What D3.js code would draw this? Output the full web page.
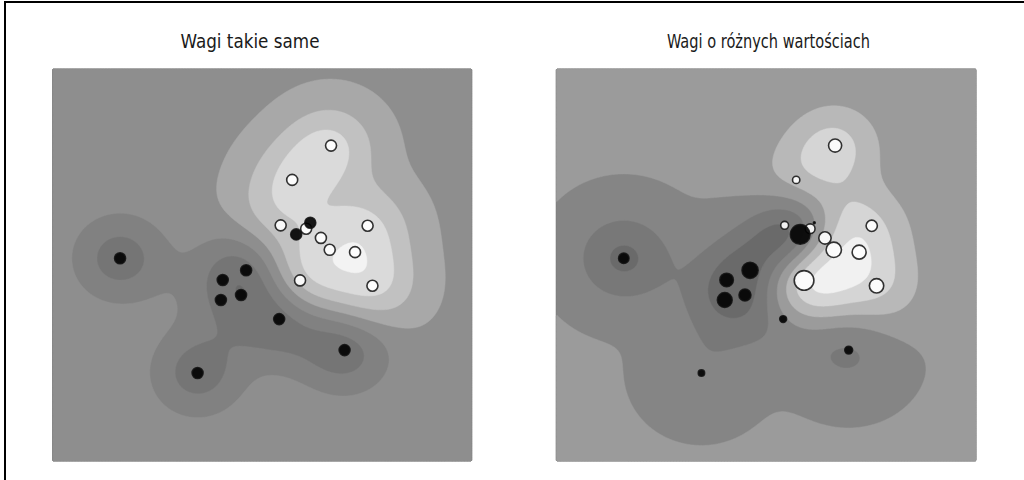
<!DOCTYPE html>
<html><head><meta charset="utf-8">
<script src="https://cdn.jsdelivr.net/npm/d3@7"></script>
<style>body{margin:0;background:#fff}svg{display:block}</style>
</head><body>
<svg id="c" width="1024" height="480"></svg>
<script>
// ---- data ----
const pointX = [2.76405235, 1.97873798, 2.86755799, 1.95008842, 0.89678115, 1.14404357, 1.76103773, 1.44386323, 2.49407907, 1.3130677,
                -2.55298982, 0.8644362, 2.26975462, 0.04575852, 1.53277921, 0.15494743, -0.88778575, -0.34791215, 1.23029068, -0.38732682];
const pointY = [1.40015721, 3.2408932, 0.02272212, 0.84864279, 1.4105985, 2.45427351, 1.12167502, 1.33367433, 0.79484174, 0.14590426,
                0.6536186, -0.74216502, -1.45436567, -0.18718385, 1.46935877, 0.37816252, -1.98079647, 0.15634897, 1.20237985, -0.30230275];
const pointLabel = [1, 1, 1, 1, 1, 1, 1, 1, 1, 1, -1, -1, -1, -1, -1, -1, -1, -1, -1, -1];
const weightsEqual = [1, 1, 1, 1, 1, 1, 1, 1, 1, 1, 1, 1, 1, 1, 1, 1, 1, 1, 1, 1];
const weightsVaried = [1.04855297, 1.42001794, 1.70627019, 1.9507754, 0.50965218, 0.4380743, 1.25279536, 0.77749036, 1.61389785, 3.1911042,
                       0.89546656, 0.3869025, 0.51080514, 1.18063218, 0.02818223, 2.14165935, 0.3325861, 1.5123595, 3.17161045, 1.81370585];
const panelTitles = ["Wagi takie same", "Wagi o różnych wartościach"];
const panelWeights = [weightsEqual, weightsVaried];
const domainRange = [-4, 5];
const svmC = 1, svmGamma = 1;
const niceSteps = [1, 1.5, 2, 2.5, 3, 4, 5, 6, 8, 10];

// ---- model (RBF SVC fitted with SMO on the points above) ----
function kern(ax, ay, bx, by) { const dx = ax - bx, dy = ay - by; return Math.exp(-svmGamma * (dx * dx + dy * dy)); }
function fitSVC(w) {
  const n = pointX.length, y = pointLabel, C = w.map(v => svmC * v);
  const K = [];
  for (let i = 0; i < n; i++) { K.push([]); for (let j = 0; j < n; j++) K[i].push(kern(pointX[i], pointY[i], pointX[j], pointY[j])); }
  const a = new Array(n).fill(0), G = new Array(n).fill(-1);
  const up = t => (y[t] === 1 && a[t] < C[t]) || (y[t] === -1 && a[t] > 0);
  const low = t => (y[t] === -1 && a[t] < C[t]) || (y[t] === 1 && a[t] > 0);
  for (let it = 0; it < 200000; it++) {
    let i = -1, j = -1, gmax = -Infinity, gmin = Infinity;
    for (let t = 0; t < n; t++) {
      const v = -y[t] * G[t];
      if (up(t) && v > gmax) { gmax = v; i = t; }
      if (low(t) && v < gmin) { gmin = v; j = t; }
    }
    if (i < 0 || j < 0 || gmax - gmin < 1e-9) break;
    const eta = Math.max(K[i][i] + K[j][j] - 2 * K[i][j], 1e-12);
    let d = (gmax - gmin) / eta;
    const bi = y[i] === 1 ? C[i] - a[i] : a[i];
    const bj = y[j] === 1 ? a[j] : C[j] - a[j];
    d = Math.min(d, bi, bj);
    const dai = y[i] * d, daj = -y[j] * d;
    a[i] += dai; a[j] += daj;
    if (Math.abs(a[i]) < 1e-14) a[i] = 0; if (Math.abs(a[i] - C[i]) < 1e-14) a[i] = C[i];
    if (Math.abs(a[j]) < 1e-14) a[j] = 0; if (Math.abs(a[j] - C[j]) < 1e-14) a[j] = C[j];
    for (let t = 0; t < n; t++) G[t] += y[t] * y[i] * K[t][i] * dai + y[t] * y[j] * K[t][j] * daj;
  }
  let ub = Infinity, lb = -Infinity, nf = 0, sf = 0;
  for (let t = 0; t < n; t++) {
    const yG = y[t] * G[t];
    if (a[t] >= C[t]) { if (y[t] === -1) ub = Math.min(ub, yG); else lb = Math.max(lb, yG); }
    else if (a[t] <= 0) { if (y[t] === 1) ub = Math.min(ub, yG); else lb = Math.max(lb, yG); }
    else { nf++; sf += yG; }
  }
  const rho = nf > 0 ? sf / nf : (ub + lb) / 2;
  const coef = a.map((v, t) => v * y[t]);
  return (px, py) => { let s = -rho; for (let t = 0; t < n; t++) if (coef[t] !== 0) s += coef[t] * kern(px, py, pointX[t], pointY[t]); return s; };
}

// ---- contour levels (classic MaxNLocator, 8 bins, trimmed) ----
function autoLevels(zmin, zmax) {
  let nb = 8;
  const scale = Math.pow(10, Math.floor(Math.log10((zmax - zmin) / nb)));
  const scaledRaw = (zmax - zmin) / nb / scale;
  let step = 0, bmin = zmin, bmax = zmax;
  for (const s of niceSteps) {
    if (s < scaledRaw) continue;
    step = s * scale;
    bmin = step * Math.floor(zmin / step);
    bmax = bmin + step * nb;
    if (bmax >= zmax) break;
  }
  nb -= Math.floor((bmax - zmax) / step);
  return d3.range(nb + 1).map(k => +(bmin + k * step).toFixed(10));
}
function bone(x) {
  const seg = (pts) => { for (let k = 1; k < pts.length; k++) if (x <= pts[k][0]) { const [x0, v0] = pts[k - 1], [x1, v1] = pts[k]; return v0 + (x - x0) / (x1 - x0) * (v1 - v0); } return pts[pts.length - 1][1]; };
  return [seg([[0, 0], [0.746032, 0.652778], [1, 1]]), seg([[0, 0], [0.365079, 0.319444], [0.746032, 0.777778], [1, 1]]), seg([[0, 0], [0.365079, 0.444444], [1, 1]])];
}
// bone colour at 75% opacity on white, as a grey tone (dark tones lifted as in the printed figure)
function bandGray(x) {
  const [r, g, b] = bone(x);
  const l = 0.299 * r + 0.587 * g + 0.114 * b;
  let v = (0.75 * l + 0.25) * 255;
  if (v < 142) v = v + 0.45 * (142 - v);
  v = Math.round(v);
  return d3.rgb(v, v, v).formatHex();
}

// ---- drawing ----
const svg = d3.select("#c");
svg.append("line").attr("x1", 4).attr("x2", 1024).attr("y1", 2).attr("y2", 2).attr("stroke", "#000").attr("stroke-width", 2);
svg.append("line").attr("x1", 5).attr("x2", 5).attr("y1", 1).attr("y2", 480).attr("stroke", "#000").attr("stroke-width", 2);

const panelX = [[52.7, 471.7], [556.3, 976]];
const panelY = [461, 69];
const titleX = [250, 768.5];
const titleLen = [139, 203];
const NX = 280, NY = 280;

panelWeights.forEach((w, p) => {
  const f = fitSVC(w);
  const xs = d3.scaleLinear().domain(domainRange).range(panelX[p]);
  const ys = d3.scaleLinear().domain(domainRange).range(panelY);
  const gx = d3.scaleLinear().domain([0, NX]).range(panelX[p]);
  const gy = d3.scaleLinear().domain([0, NY]).range([panelY[1], panelY[0]]);
  const vals = new Float64Array(NX * NY);
  for (let j = 0; j < NY; j++) for (let i = 0; i < NX; i++) vals[j * NX + i] = f(xs.invert(gx(i + 0.5)), ys.invert(gy(j + 0.5)));
  const [zmin, zmax] = d3.extent(vals);
  const lev = autoLevels(zmin, zmax);
  const nBands = lev.length - 1;
  const colors = d3.range(nBands).map(k => bandGray(((lev[k] + lev[k + 1]) / 2 - lev[0]) / (lev[nBands] - lev[0])));
  const thresholds = lev.slice(0, nBands);
  const contours = d3.contours().size([NX, NY]).thresholds(thresholds)(vals);
  const proj = d3.geoTransform({ point(x, y) { this.stream.point(gx(x), gy(y)); } });
  const path = d3.geoPath(proj);
  const g = svg.append("g");
  g.append("rect").attr("x", panelX[p][0]).attr("y", panelY[1]).attr("width", panelX[p][1] - panelX[p][0]).attr("height", panelY[0] - panelY[1]).attr("fill", colors[0]);
  g.selectAll("path.band").data(contours).join("path").attr("class", "band")
    .attr("d", path).attr("fill", (d, k) => colors[k]).attr("stroke", (d, k) => colors[k]).attr("stroke-width", 0.5);
  g.selectAll("circle").data(pointX.map((x, t) => t)).join("circle")
    .attr("cx", t => xs(pointX[t])).attr("cy", t => ys(pointY[t]))
    .attr("r", t => 5.5 * Math.sqrt(w[t]))
    .attr("fill", t => pointLabel[t] === 1 ? "#ffffff" : "#000000").attr("fill-opacity", 0.9)
    .attr("stroke", "#111").attr("stroke-opacity", 0.85).attr("stroke-width", 1.6);
  svg.append("text").attr("x", titleX[p]).attr("y", 48).attr("text-anchor", "middle")
    .attr("font-family", "'Liberation Sans Narrow', 'DejaVu Sans Condensed', 'Liberation Sans', sans-serif")
    .attr("font-size", 20).attr("fill", "#1a1a1a")
    .attr("textLength", titleLen[p]).attr("lengthAdjust", "spacingAndGlyphs")
    .text(panelTitles[p]);
});
</script>
</body></html>
